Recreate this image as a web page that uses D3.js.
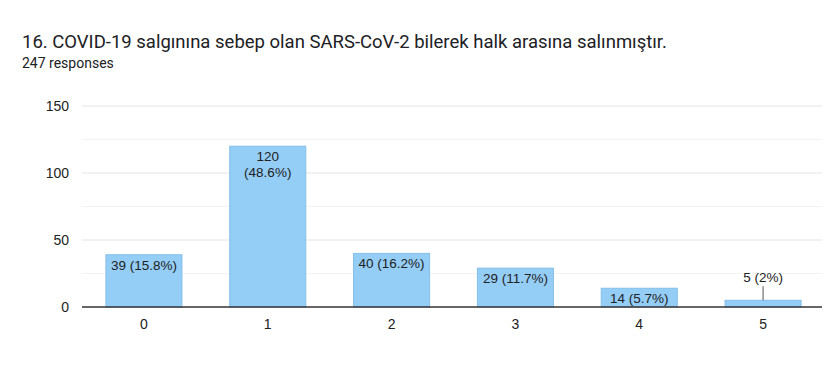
<!DOCTYPE html>
<html>
<head>
<meta charset="utf-8">
<script src="https://cdn.jsdelivr.net/npm/d3@7"></script>
<style>
  body { margin: 0; background: #fff; overflow: hidden; }
  svg { display: block; }
</style>
</head>
<body>
<div id="chart-area"></div>
<script>
const categories = ["0", "1", "2", "3", "4", "5"];
const counts = [39, 120, 40, 29, 14, 5];
const percents = ["15.8%", "48.6%", "16.2%", "11.7%", "5.7%", "2%"];
const yTicks = [0, 50, 100, 150];
const yMinorTicks = [25, 75, 125];

const width = 825;
const height = 392;
const margin = {top: 106, right: 0, bottom: 85, left: 82};
const innerWidth = width - margin.left - margin.right;
const innerHeight = height - margin.top - margin.bottom;

const labelFont = 'Arial, "Liberation Sans", sans-serif';

const svg = d3.select('#chart-area')
  .append('svg')
  .attr('width', width)
  .attr('height', height)
  .attr('font-family', labelFont);

svg.append('text')
  .text('16. COVID-19 salgınına sebep olan SARS-CoV-2 bilerek halk arasına salınmıştır.')
  .attr('x', 22).attr('y', 48)
  .style('font-family', 'Roboto, sans-serif')
  .style('font-size', '18.5px')
  .attr('fill', '#202124');

svg.append('text')
  .text('247 responses')
  .attr('x', 22).attr('y', 68)
  .style('font-family', 'Roboto, sans-serif')
  .style('font-size', '14px')
  .attr('fill', '#202124');

const g = svg.append('g')
  .attr('transform', `translate(${margin.left},${margin.top})`);

const x = d3.scaleBand()
  .domain(categories)
  .range([0, innerWidth])
  .paddingInner(0.386)
  .paddingOuter(0.193);

const y = d3.scaleLinear()
  .domain([0, 150])
  .range([innerHeight, 0]);

// grid
g.selectAll('.minor')
  .data(yMinorTicks)
  .enter().append('line')
  .attr('x1', 0).attr('x2', innerWidth - 3)
  .attr('y1', d => y(d)).attr('y2', d => y(d))
  .attr('stroke', '#f3f3f3');

g.selectAll('.major')
  .data(yTicks.slice(1))
  .enter().append('line')
  .attr('x1', 0).attr('x2', innerWidth - 3)
  .attr('y1', d => y(d)).attr('y2', d => y(d))
  .attr('stroke', '#e4e4e4');

const yAxis = d3.axisLeft(y).tickValues(yTicks).tickSize(0).tickPadding(13);
const yG = g.append('g').call(yAxis);
yG.select('.domain').remove();
yG.attr('font-family', labelFont).attr('font-size', 14);
yG.selectAll('text').attr('fill', '#222');

// bars
const data = categories.map((c, i) => ({cat: c, count: counts[i], pct: percents[i]}));

g.selectAll('rect.bar')
  .data(data)
  .enter().append('rect')
  .attr('class', 'bar')
  .attr('x', d => x(d.cat))
  .attr('y', d => y(d.count))
  .attr('width', x.bandwidth())
  .attr('height', d => innerHeight - y(d.count))
  .attr('fill', '#94cdf6')
  .attr('stroke', '#84bfe9')
  .attr('stroke-width', 1);

// baseline
const xAxis = d3.axisBottom(x).tickSize(0).tickPadding(12);
const xG = g.append('g')
  .attr('transform', `translate(0,${innerHeight})`)
  .call(xAxis);
xG.attr('font-family', labelFont).attr('font-size', 14);
xG.select('.domain').attr('stroke', '#333').attr('stroke-width', 1.3).attr('d', `M0,0H${innerWidth - 3}`);
xG.selectAll('text').attr('fill', '#222');

// labels
data.forEach(d => {
  const cx = x(d.cat) + x.bandwidth() / 2;
  const top = y(d.count);
  const barH = innerHeight - top;
  if (barH > 60) {
    const t = g.append('text')
      .attr('text-anchor', 'middle')
      .attr('font-size', '13.5px')
      .attr('fill', '#222');
    t.append('tspan').attr('x', cx).attr('y', top + 15).text(d.count);
    t.append('tspan').attr('x', cx).attr('y', top + 31).text(`(${d.pct})`);
  } else if (barH > 14) {
    g.append('text')
      .attr('x', cx).attr('y', top + 15)
      .attr('text-anchor', 'middle')
      .attr('font-size', '13.5px')
      .attr('fill', '#222')
      .text(`${d.count} (${d.pct})`);
  } else {
    g.append('line')
      .attr('x1', cx).attr('x2', cx)
      .attr('y1', top - 14).attr('y2', top)
      .attr('stroke', '#555');
    g.append('text')
      .attr('x', cx).attr('y', top - 18)
      .attr('text-anchor', 'middle')
      .attr('font-size', '13.5px')
      .attr('fill', '#222')
      .text(`${d.count} (${d.pct})`);
  }
});
</script>
</body>
</html>
